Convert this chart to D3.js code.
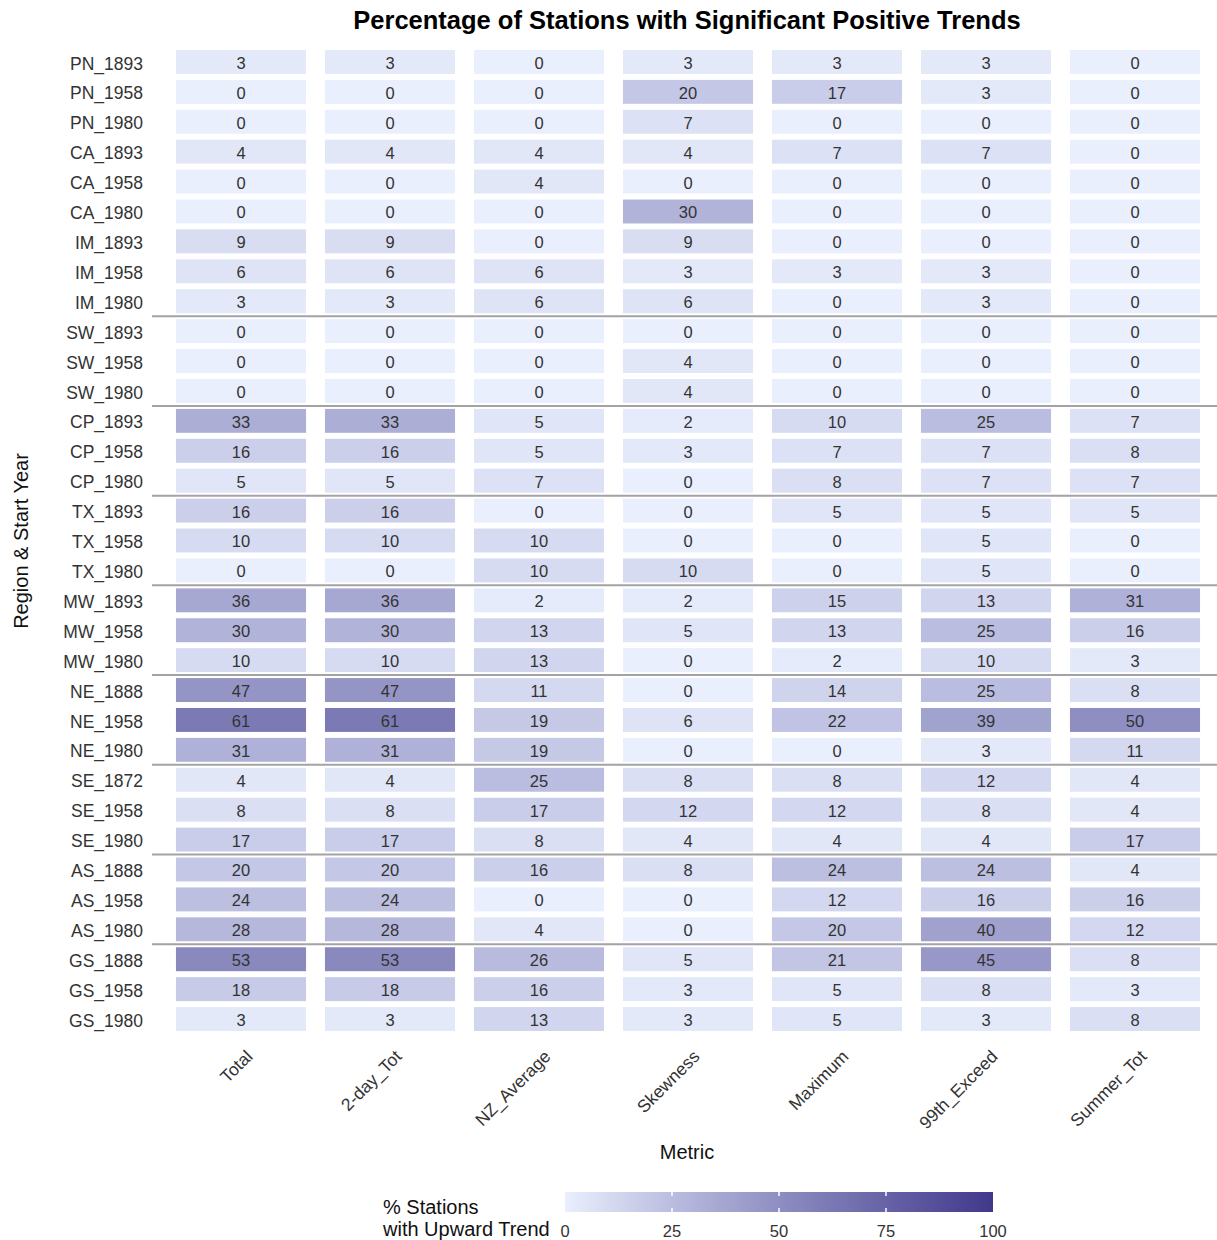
<!DOCTYPE html>
<html>
<head>
<meta charset="utf-8">
<script src="https://cdn.jsdelivr.net/npm/d3@7"></script>
<style>
  html, body { margin: 0; padding: 0; background: #ffffff; }
  svg { display: block; font-family: "Liberation Sans", Arial, sans-serif; }
</style>
</head>
<body>
<svg id="chart" width="1217" height="1240"></svg>
<script>
// Metrics (columns)
const metrics = ["Total", "2-day_Tot", "NZ_Average", "Skewness", "Maximum", "99th_Exceed", "Summer_Tot"];

// Region & start year (rows, top to bottom)
const rowLabels = [
  "PN_1893", "PN_1958", "PN_1980",
  "CA_1893", "CA_1958", "CA_1980",
  "IM_1893", "IM_1958", "IM_1980",
  "SW_1893", "SW_1958", "SW_1980",
  "CP_1893", "CP_1958", "CP_1980",
  "TX_1893", "TX_1958", "TX_1980",
  "MW_1893", "MW_1958", "MW_1980",
  "NE_1888", "NE_1958", "NE_1980",
  "SE_1872", "SE_1958", "SE_1980",
  "AS_1888", "AS_1958", "AS_1980",
  "GS_1888", "GS_1958", "GS_1980"
];

// Percentage of stations with significant positive trends, one array per metric
const total      = [3,0,0, 4,0,0, 9,6,3, 0,0,0, 33,16,5, 16,10,0, 36,30,10, 47,61,31, 4,8,17, 20,24,28, 53,18,3];
const twoDayTot  = [3,0,0, 4,0,0, 9,6,3, 0,0,0, 33,16,5, 16,10,0, 36,30,10, 47,61,31, 4,8,17, 20,24,28, 53,18,3];
const nzAverage  = [0,0,0, 4,4,0, 0,6,6, 0,0,0, 5,5,7, 0,10,10, 2,13,13, 11,19,19, 25,17,8, 16,0,4, 26,16,13];
const skewness   = [3,20,7, 4,0,30, 9,3,6, 0,4,4, 2,3,0, 0,0,10, 2,5,0, 0,6,0, 8,12,4, 8,0,0, 5,3,3];
const maximum    = [3,17,0, 7,0,0, 0,3,0, 0,0,0, 10,7,8, 5,0,0, 15,13,2, 14,22,0, 8,12,4, 24,12,20, 21,5,5];
const exceed99   = [3,3,0, 7,0,0, 0,3,3, 0,0,0, 25,7,7, 5,5,5, 13,25,10, 25,39,3, 12,8,4, 24,16,40, 45,8,3];
const summerTot  = [0,0,0, 0,0,0, 0,0,0, 0,0,0, 7,8,7, 5,0,0, 31,16,3, 8,50,11, 4,4,17, 4,16,12, 8,3,8];

const seriesByMetric = [total, twoDayTot, nzAverage, skewness, maximum, exceed99, summerTot];

// Regions that share a block; separators are drawn between blocks
const regionBlocks = [["PN", "CA", "IM"], ["SW"], ["CP"], ["TX"], ["MW"], ["NE"], ["SE"], ["AS"], ["GS"]];

// Legend ticks
const legendTicks = [0, 25, 50, 75, 100];

// Fill colour stops
const colorStops = [0, 30, 60, 100];
const colorRange = ["#e9effd", "#b1b3d9", "#7d7cb6", "#41388b"];

const cells = [];
rowLabels.forEach((r, i) => {
  metrics.forEach((m, j) => {
    cells.push({ row: r, metric: m, value: seriesByMetric[j][i] });
  });
});

const svg = d3.select("#chart");

const x = d3.scaleBand().domain(metrics).range([166.5, 1209.5]).paddingInner(0.127).paddingOuter(0.0635);
const y = d3.scaleBand().domain(rowLabels).range([47, 1034]).paddingInner(0.2).paddingOuter(0.1);
const color = d3.scaleLinear().domain(colorStops).range(colorRange).interpolate(d3.interpolateRgb);

// Title
svg.append("text")
  .attr("x", 687).attr("y", 29)
  .attr("text-anchor", "middle")
  .attr("font-size", 25.5).attr("font-weight", "bold").attr("fill", "#000")
  .text("Percentage of Stations with Significant Positive Trends");

// Tiles
const g = svg.append("g");
g.selectAll("rect.tile").data(cells).enter().append("rect")
  .attr("class", "tile")
  .attr("x", d => x(d.metric))
  .attr("y", d => y(d.row))
  .attr("width", x.bandwidth())
  .attr("height", y.bandwidth())
  .attr("fill", d => color(d.value));

g.selectAll("text.val").data(cells).enter().append("text")
  .attr("class", "val")
  .attr("x", d => x(d.metric) + x.bandwidth() / 2)
  .attr("y", d => y(d.row) + y.bandwidth() / 2)
  .attr("dy", "0.42em")
  .attr("text-anchor", "middle")
  .attr("font-size", 16.5).attr("fill", "#333")
  .text(d => d.value);

// Block separators
const regionOf = r => r.split("_")[0];
const blockOf = r => regionBlocks.findIndex(b => b.includes(regionOf(r)));
const step = y.step();
rowLabels.forEach((r, i) => {
  if (i > 0 && blockOf(r) !== blockOf(rowLabels[i - 1])) {
    const yy = y(r) - (step - y.bandwidth()) / 2;
    svg.append("line")
      .attr("x1", 152).attr("x2", 1217)
      .attr("y1", yy).attr("y2", yy)
      .attr("stroke", "#a3a3a3").attr("stroke-width", 2);
  }
});

// Y axis labels
const yAxis = d3.axisLeft(y).tickSize(0).tickPadding(0);
const yg = svg.append("g").attr("transform", "translate(143,2)").call(yAxis);
yg.select(".domain").remove();
yg.selectAll("text").attr("font-size", 17.5).attr("fill", "#333")
  .attr("font-family", "'Liberation Sans', Arial, sans-serif");

// X axis labels (rotated)
const xg = svg.append("g");
xg.selectAll("text").data(metrics).enter().append("text")
  .attr("transform", d => `translate(${x(d) + x.bandwidth() / 2 + 4},${1049}) rotate(-45)`)
  .attr("text-anchor", "end")
  .attr("dy", "0.7em")
  .attr("font-size", 17.5).attr("fill", "#333")
  .text(d => d);

// Axis titles
svg.append("text")
  .attr("x", 687).attr("y", 1159)
  .attr("text-anchor", "middle")
  .attr("font-size", 20).attr("fill", "#111")
  .text("Metric");

svg.append("text")
  .attr("transform", "translate(28,541) rotate(-90)")
  .attr("text-anchor", "middle")
  .attr("font-size", 20).attr("fill", "#111")
  .text("Region & Start Year");

// Legend
const lx = d3.scaleLinear().domain([0, 100]).range([565, 993]);
const defs = svg.append("defs");
const grad = defs.append("linearGradient").attr("id", "legendGrad");
d3.range(0, 101, 5).forEach(v => {
  grad.append("stop").attr("offset", `${v}%`).attr("stop-color", color(v));
});
const legY = 1192, legH = 20;
svg.append("rect")
  .attr("x", lx(0)).attr("y", legY)
  .attr("width", lx(100) - lx(0)).attr("height", legH)
  .attr("fill", "url(#legendGrad)");
legendTicks.forEach(t => {
  if (t === 0 || t === 100) return;
  svg.append("line")
    .attr("x1", lx(t)).attr("x2", lx(t))
    .attr("y1", legY).attr("y2", legY + 4)
    .attr("stroke", "#fff").attr("stroke-width", 1.5);
  svg.append("line")
    .attr("x1", lx(t)).attr("x2", lx(t))
    .attr("y1", legY + legH - 4).attr("y2", legY + legH)
    .attr("stroke", "#fff").attr("stroke-width", 1.5);
});
svg.selectAll("text.legtick").data(legendTicks).enter().append("text")
  .attr("class", "legtick")
  .attr("x", d => lx(d))
  .attr("y", 1237)
  .attr("text-anchor", "middle")
  .attr("font-size", 16.5).attr("fill", "#333")
  .text(d => d);

const lt = svg.append("text").attr("x", 383).attr("font-size", 20).attr("fill", "#111");
lt.append("tspan").attr("x", 383).attr("y", 1214).text("% Stations");
lt.append("tspan").attr("x", 383).attr("y", 1236).text("with Upward Trend");
</script>
</body>
</html>
